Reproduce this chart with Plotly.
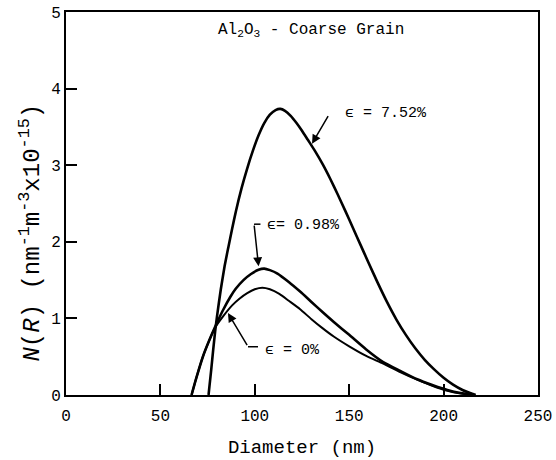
import plotly.graph_objects as go

# ---- data ----
x_752 = [75.5, 76, 77, 78, 79, 80, 82, 84, 86, 88, 90, 93, 96, 99, 102, 105, 108, 111, 113.5, 116, 119, 122, 125, 128, 132, 136, 140, 144, 148, 152, 156, 160, 165, 170, 175, 180, 185, 190, 195, 200, 205, 210, 214, 217]
y_752 = [0, 0.12, 0.35, 0.60, 0.83, 1.03, 1.38, 1.68, 1.93, 2.17, 2.40, 2.70, 2.96, 3.19, 3.39, 3.55, 3.66, 3.72, 3.735, 3.71, 3.645, 3.555, 3.45, 3.335, 3.18, 3.01, 2.82, 2.615, 2.40, 2.18, 1.96, 1.74, 1.47, 1.215, 0.985, 0.785, 0.61, 0.46, 0.335, 0.225, 0.135, 0.065, 0.025, 0]

x_098 = [66.5, 69, 72.5, 76, 79, 83, 87, 90, 94, 98, 102, 105, 108, 112, 118, 124, 130, 136, 142, 150, 159, 168, 177, 186, 194, 202, 209, 216]
y_098 = [0, 0.22, 0.50, 0.72, 0.89, 1.10, 1.28, 1.39, 1.50, 1.58, 1.635, 1.65, 1.63, 1.585, 1.475, 1.35, 1.215, 1.08, 0.95, 0.785, 0.595, 0.43, 0.315, 0.205, 0.13, 0.065, 0.025, 0]

x_000 = [66.5, 69, 72.5, 76, 79, 83, 88, 92, 96, 100, 104, 108, 113, 118, 124, 130, 136, 142, 150, 159, 168, 177, 186, 194, 202, 209, 216]
y_000 = [0, 0.22, 0.50, 0.72, 0.88, 1.02, 1.17, 1.26, 1.33, 1.38, 1.40, 1.38, 1.32, 1.23, 1.12, 0.99, 0.87, 0.76, 0.635, 0.51, 0.41, 0.30, 0.20, 0.12, 0.055, 0.02, 0]

x_ticks = [0, 50, 100, 150, 200, 250]
y_ticks = [0, 1, 2, 3, 4, 5]

title_text = "Al<sub>2</sub>O<sub>3</sub> - Coarse Grain"
x_title = "Diameter (nm)"
y_title = "<i>N</i>(<i>R</i>) (nm<sup>-1</sup>m<sup>-3</sup>x10<sup>-15</sup>)"
lab_752 = "ϵ = 7.52%"
lab_098 = "ϵ= 0.98%"
lab_000 = "ϵ = 0%"

FONT = "Liberation Mono"

fig = go.Figure()
for xs, ys, w in [(x_752, y_752, 2.6), (x_098, y_098, 2.6), (x_000, y_000, 2.0)]:
    fig.add_trace(go.Scatter(x=xs, y=ys, mode="lines",
                             line=dict(color="black", width=w, shape="spline", smoothing=0.6),
                             showlegend=False, hoverinfo="skip"))

ann = []
# title inside plot
ann.append(dict(x=129.5, y=4.76, xref="x", yref="y", text=title_text, showarrow=False,
                font=dict(family=FONT, size=16, color="black"), xanchor="center", yanchor="middle"))
# y-axis title
ann.append(dict(x=-0.075, y=0.423, xref="paper", yref="paper", text=y_title, showarrow=False,
                textangle=-90, font=dict(family=FONT, size=24, color="black"),
                xanchor="center", yanchor="middle"))
# labels
ann.append(dict(x=146.5, y=3.68, xref="x", yref="y", text=lab_752, showarrow=False,
                font=dict(family=FONT, size=15, color="black"), xanchor="left", yanchor="middle"))
ann.append(dict(x=105.5, y=2.21, xref="x", yref="y", text=lab_098, showarrow=False,
                font=dict(family=FONT, size=15, color="black"), xanchor="left", yanchor="middle"))
ann.append(dict(x=104.5, y=0.58, xref="x", yref="y", text=lab_000, showarrow=False,
                font=dict(family=FONT, size=15, color="black"), xanchor="left", yanchor="middle"))
# arrows
ann.append(dict(x=130.3, y=3.28, ax=139.3, ay=3.66, xref="x", yref="y", axref="x", ayref="y",
                text="", showarrow=True, arrowhead=2, arrowsize=1.2, arrowwidth=1.5, arrowcolor="black"))
ann.append(dict(x=102.0, y=1.68, ax=99.6, ay=2.23, xref="x", yref="y", axref="x", ayref="y",
                text="", showarrow=True, arrowhead=2, arrowsize=1.2, arrowwidth=1.5, arrowcolor="black"))
ann.append(dict(x=85.8, y=1.07, ax=96.4, ay=0.63, xref="x", yref="y", axref="x", ayref="y",
                text="", showarrow=True, arrowhead=2, arrowsize=1.2, arrowwidth=1.5, arrowcolor="black"))

shapes = [
    dict(type="line", xref="x", yref="y", x0=99.6, y0=2.23, x1=103.0, y1=2.23,
         line=dict(color="black", width=1.5)),
    dict(type="line", xref="x", yref="y", x0=96.4, y0=0.63, x1=101.7, y1=0.63,
         line=dict(color="black", width=1.5)),
]

fig.update_layout(
    width=556, height=460,
    margin=dict(l=66, r=18, t=12, b=65, autoexpand=False),
    paper_bgcolor="white", plot_bgcolor="white",
    font=dict(family=FONT, size=16, color="black"),
    annotations=ann, shapes=shapes,
    xaxis=dict(range=[0, 250], tickvals=x_ticks, ticks="inside", ticklen=11, tickwidth=1.5,
               tickcolor="black", showline=True, linecolor="black", linewidth=2, mirror=True,
               showgrid=False, zeroline=False, title=dict(text=x_title, standoff=14),
               automargin=False, ticklabelstandoff=5, tickfont=dict(family=FONT, size=16)),
    yaxis=dict(range=[0, 5], tickvals=y_ticks, ticks="inside", ticklen=11, tickwidth=1.5,
               tickcolor="black", showline=True, linecolor="black", linewidth=2, mirror=True,
               showgrid=False, zeroline=False, automargin=False, tickfont=dict(family=FONT, size=16)),
)

fig.write_html("out.html")
